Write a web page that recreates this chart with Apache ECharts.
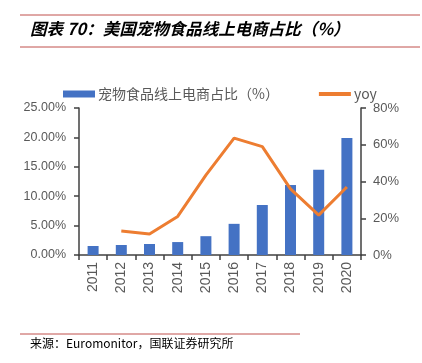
<!DOCTYPE html>
<html><head><meta charset="utf-8">
<script src="https://cdn.jsdelivr.net/npm/echarts@6/dist/echarts.min.js"></script>
<style>html,body{margin:0;padding:0;background:#fff}#c{width:422px;height:363px}</style>
</head><body><div id="c"></div>
<script>
const categories = ['2011','2012','2013','2014','2015','2016','2017','2018','2019','2020'];
const shareValues = [1.53, 1.7, 1.87, 2.2, 3.2, 5.3, 8.5, 11.9, 14.5, 19.9];
const yoyValues = [null, 13, 11.4, 21, 43.5, 63.6, 59, 36, 21.7, 37];
const leftTicks = ['0.00%','5.00%','10.00%','15.00%','20.00%','25.00%'];
const rightTicks = ['0%','20%','40%','60%','80%'];
const seriesNames = ['宠物食品线上电商占比（%）','yoy'];
const titleText = '图表 70：美国宠物食品线上电商占比（%）';
const sourceText = '来源：Euromonitor，国联证券研究所';

const chart = echarts.init(document.getElementById('c'));
const gray = '#595959';
const axisCol = '#404040';
chart.setOption({
  animation: false,
  textStyle: {fontFamily: 'Noto Sans CJK SC'},
  graphic: [
    {type:'line', shape:{x1:20,y1:15,x2:420,y2:15}, style:{stroke:'#c0504d',lineWidth:1}},
    {type:'text', left:30, top:20, style:{text:titleText, font:'italic bold 16.5px "Noto Sans CJK SC"', fill:'#000'}},
    {type:'line', shape:{x1:20,y1:47,x2:420,y2:47}, style:{stroke:'#c0504d',lineWidth:1}},
    {type:'line', shape:{x1:20,y1:334,x2:300,y2:334}, style:{stroke:'#c0504d',lineWidth:1}},
    {type:'text', left:30, top:337, style:{text:sourceText, font:'12px "Noto Sans CJK SC"', fill:'#000'}}
  ],
  legend: {
    top: 82, left: 58, itemGap: 40, itemWidth: 32, itemHeight: 7,
    textStyle: {color: gray, fontSize: 14, fontFamily: 'Noto Sans CJK SC', padding:[0,0,0,-2]},
    data: [
      {name: seriesNames[0], icon: 'rect'},
      {name: seriesNames[1], icon: 'path://M0,0H32V4H0Z'}
    ]
  },
  grid: {left: 79, right: 61, top: 108, bottom: 108},
  xAxis: {
    type: 'category', data: categories,
    axisLine: {lineStyle: {color: axisCol, width: 1.5}},
    axisTick: {show: true, alignWithLabel: false, length: 5, lineStyle: {color: axisCol, width: 1.5}},
    axisLabel: {rotate: 90, color: gray, fontSize: 14, fontFamily: 'Liberation Sans', margin: 7}
  },
  yAxis: [
    {type: 'value', min: 0, max: 25, interval: 5,
     axisLine: {show: true, lineStyle: {color: axisCol, width: 1.5}},
     axisTick: {show: true, length: 5, lineStyle: {color: axisCol, width: 1.5}},
     splitLine: {show: false},
     axisLabel: {color: gray, fontSize: 12.5, fontFamily: 'Liberation Sans', margin: 13,
       formatter: v => leftTicks[Math.round(v/5)]}},
    {type: 'value', min: 0, max: 80, interval: 20, position: 'right',
     axisLine: {show: true, lineStyle: {color: axisCol, width: 1.5}},
     axisTick: {show: true, length: 5, lineStyle: {color: axisCol, width: 1.5}},
     splitLine: {show: false},
     axisLabel: {color: gray, fontSize: 13, fontFamily: 'Liberation Sans', margin: 12,
       formatter: v => rightTicks[Math.round(v/20)]}}
  ],
  series: [
    {name: seriesNames[0], type: 'bar', data: shareValues, barWidth: 11,
     itemStyle: {color: '#4472c4'}},
    {name: seriesNames[1], type: 'line', yAxisIndex: 1, data: yoyValues,
     symbol: 'none', lineStyle: {color: '#ed7d31', width: 3}, itemStyle:{color:'#ed7d31'}}
  ]
});
</script></body></html>
